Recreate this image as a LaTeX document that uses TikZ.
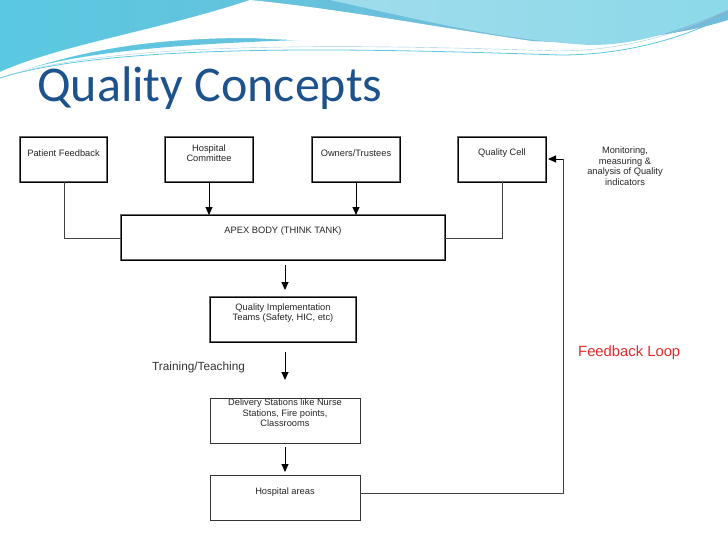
\documentclass[tikz,border=0pt]{standalone}
\usepackage{fontspec}
\setmainfont{Liberation Sans}
\newfontfamily\titlefont{Carlito}
\usetikzlibrary{arrows.meta}
\definecolor{titleblue}{RGB}{30,82,140}
\definecolor{fbred}{RGB}{230,40,40}
\definecolor{cyanA}{RGB}{90,200,225}
\definecolor{cyanB}{RGB}{160,220,235}
\definecolor{cyanC}{RGB}{120,185,215}
\begin{document}
\begin{tikzpicture}[x=1pt,y=-1pt,
  dbox/.style={draw=gray!80!black, line width=0.9pt, double=black, double distance=0.6pt, fill=white},
  sbox/.style={draw=black!80, line width=0.8pt, fill=white},
  txt/.style={font=\fontsize{9.3}{10.5}\selectfont, align=center, text=black!85},
  conn/.style={draw=black!75, line width=0.9pt},
  arr/.style={draw=black, line width=0.9pt, -{Triangle[length=8pt,width=7pt]}}]
\useasboundingbox (0,0) rectangle (728,546);
% banner
\shade[left color=cyanA, right color=cyanC] (0,0) -- (728,0) -- (728,20) .. controls (600,60) and (450,30) .. (300,40) .. controls (150,45) and (60,55) .. (0,78) -- cycle;
\fill[white] (250,0) .. controls (350,10) and (450,30) .. (560,45) .. controls (480,50) and (400,45) .. (250,38) .. controls (150,38) and (80,50) .. (0,78) -- (0,72) .. controls (60,45) and (160,30) .. (250,0) -- cycle;
\shade[left color=cyanB, right color=cyanA!70] (330,0) -- (728,0) -- (728,10) .. controls (680,30) and (640,45) .. (590,45) .. controls (500,40) and (420,20) .. (330,0) -- cycle;
\draw[cyanA, line width=0.8pt] (0,78) .. controls (120,40) and (400,50) .. (560,55) .. controls (640,55) and (700,30) .. (728,15);
\draw[cyanC!70, line width=0.4pt] (10,75) .. controls (130,38) and (400,46) .. (560,51) .. controls (640,50) and (700,25) .. (728,8);
% title
\node[anchor=base west, inner sep=0, text=titleblue, font=\titlefont\fontsize{50}{54}\selectfont] (title) at (37,101) {Quality Concepts};
% boxes
\path[dbox] (20,137) rectangle (107,182); \node[txt] (pf) at (63.5,153) {Patient Feedback};
\path[dbox] (165,137) rectangle (253,182); \node[txt] (hc) at (209,153) {Hospital\\Committee};
\path[dbox] (312,137) rectangle (400,182); \node[txt] (ot) at (356,153) {Owners/Trustees};
\path[dbox] (458,137) rectangle (546,182); \node[txt] (qc) at (502,153) {Quality Cell};
\path[dbox] (121,215) rectangle (445,260); \node[txt] (apex) at (283,231) {APEX BODY (THINK TANK)};
\path[dbox] (210,297) rectangle (356,342); \node[txt] (qit) at (283,313) {Quality Implementation\\Teams (Safety, HIC, etc)};
\path[sbox] (210,398) rectangle (360,443); \node[txt] (ds) at (285,413) {Delivery Stations like Nurse\\Stations, Fire points,\\Classrooms};
\path[sbox] (210,475) rectangle (360,520); \node[txt] (ha) at (285,492) {Hospital areas};
\coordinate (pfb) at (64,182); \coordinate (qcb) at (502,182);
\coordinate (hcb) at (209,182); \coordinate (otb) at (356,182);
% connectors
\draw[conn] (pfb) |- (121,238);
\draw[conn] (qcb) |- (445,238);
\draw[arr] (hcb) -- (209,215);
\draw[arr] (otb) -- (356,215);
\draw[arr] (285,265) -- (285,290);
\draw[arr] (285,352) -- (285,380);
\draw[arr] (285,447) -- (285,472);
\draw[conn] (360,493) -- (563,493) -- (563,159);
\draw[arr] (563,159) -- (548,159);
% labels
\node[txt] (mon) at (625,166) {Monitoring,\\measuring \&\\analysis of Quality\\indicators};
\node[font=\fontsize{14.8}{16}\selectfont, text=fbred, anchor=west, inner sep=0] (fb) at (578,353) {Feedback Loop};
\node[font=\fontsize{11.8}{13}\selectfont, text=black!80, anchor=west, inner sep=0] (tt) at (152,367) {Training/Teaching};
\end{tikzpicture}
\end{document}
